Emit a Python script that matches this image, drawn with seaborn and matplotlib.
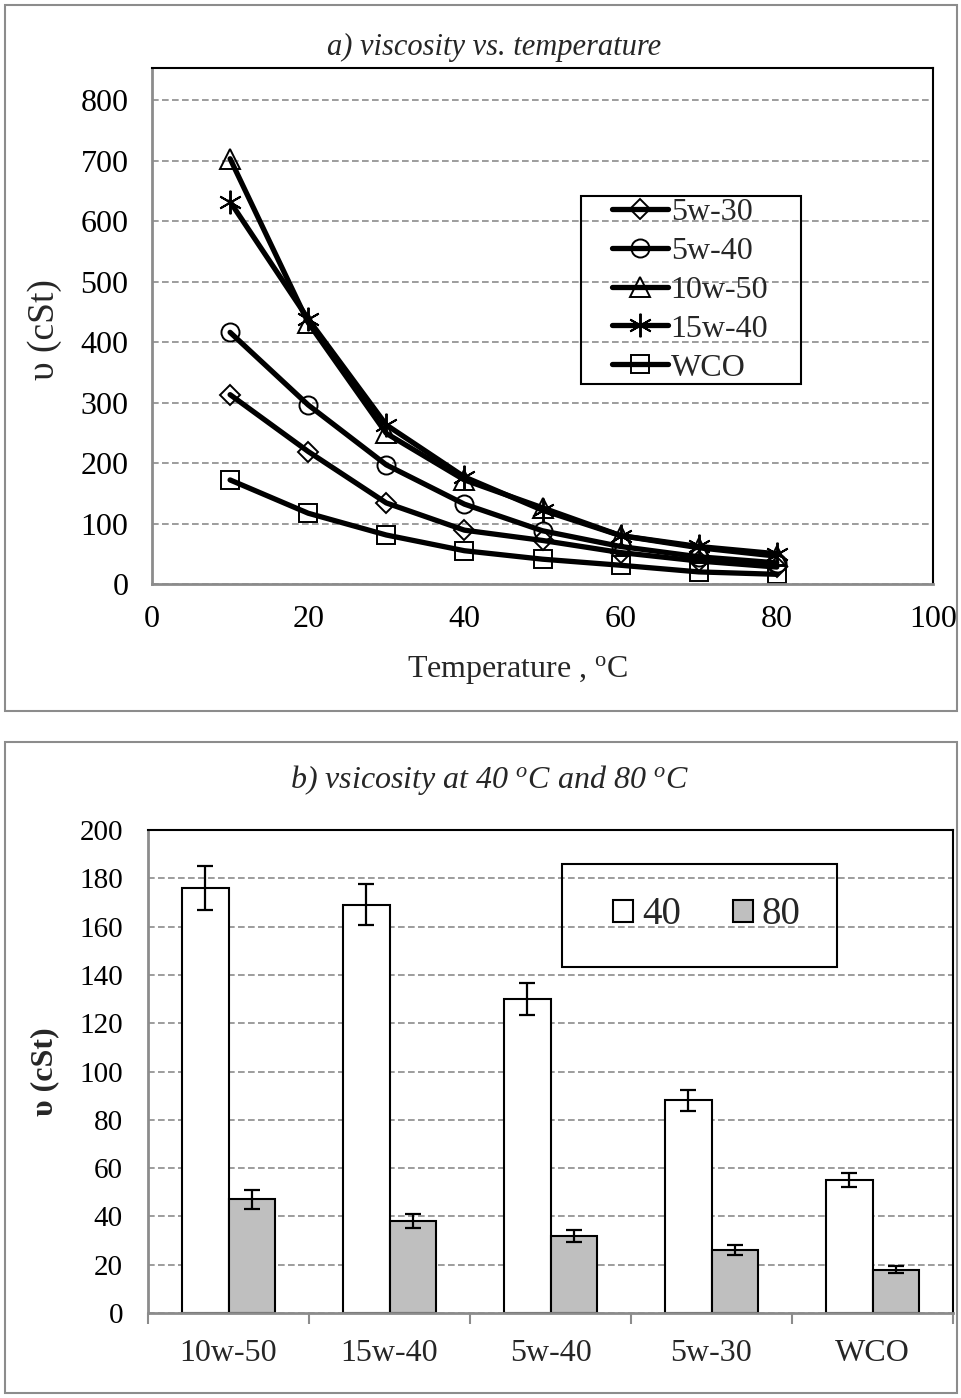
import numpy as np
import pandas as pd
import matplotlib
matplotlib.use("Agg")
import matplotlib.pyplot as plt
import seaborn as sns
from matplotlib.patches import Rectangle, Patch
from matplotlib.lines import Line2D

# ---------------- data ----------------
temps = [10, 20, 30, 40, 50, 60, 70, 80]
oil_names = ["5w-30", "5w-40", "10w-50", "15w-40", "WCO"]
v_5w30 = [313, 219, 134, 89, 72, 52, 38, 28]
v_5w40 = [416, 296, 197, 132, 88, 62, 45, 35]
v_10w50 = [703, 432, 249, 172, 126, 80, 60, 46]
v_15w40 = [632, 438, 263, 177, 122, 80, 62, 50]
v_wco = [172, 117, 81, 55, 41, 31, 20, 16]

bar_cats = ["10w-50", "15w-40", "5w-40", "5w-30", "WCO"]
visc_40 = [176, 169, 130, 88, 55]
visc_80 = [47, 38, 32, 26, 18]
err_40 = [9, 8.5, 6.5, 4.5, 3]
err_80 = [4, 3, 2.5, 2, 1.5]

# ---------------- style ----------------
sns.set_theme(style="white")
plt.rcParams["font.family"] = ["Liberation Serif", "DejaVu Serif"]
plt.rcParams["mathtext.fontset"] = "custom"
plt.rcParams["mathtext.rm"] = "Liberation Serif"
plt.rcParams["mathtext.it"] = "Liberation Serif:italic"
plt.rcParams["mathtext.bf"] = "Liberation Serif:bold"

W, H = 961, 1398
fig = plt.figure(figsize=(W / 100, H / 100), dpi=100)

def fx(px):
    return px / W

def fy(py):
    return 1 - py / H

def fig_box(x0, y0, x1, y1, color, lw):
    fig.patches.append(Rectangle((fx(x0), fy(y1)), fx(x1) - fx(x0), fy(y0) - fy(y1),
                                 transform=fig.transFigure, fill=False,
                                 edgecolor=color, lw=lw, zorder=10))

# panel borders
fig_box(5, 5, 957, 711, "#8c8c8c", 1.5)
fig_box(5, 742, 957, 1393, "#8c8c8c", 1.5)

axis_gray = "#8c8c8c"
grid_gray = "#8c8c8c"

# ---------------- top chart ----------------
ax1 = fig.add_axes([fx(152), fy(584), fx(933) - fx(152), fy(68) - fy(584)])
series = {"5w-30": v_5w30, "5w-40": v_5w40, "10w-50": v_10w50, "15w-40": v_15w40, "WCO": v_wco}
markers = {"5w-30": "D", "5w-40": "o", "10w-50": "^", "15w-40": (6, 2, 0), "WCO": "s"}
msizes = {"5w-30": 10, "5w-40": 13, "10w-50": 14, "15w-40": 17, "WCO": 13}
draw_order = ["WCO", "5w-30", "5w-40", "10w-50", "15w-40"]
for name in draw_order:
    sns.lineplot(x=temps, y=series[name], ax=ax1, color="black", lw=3.8,
                 marker=markers[name], markersize=msizes[name], markeredgewidth=1.4,
                 markerfacecolor="none", markeredgecolor="black", label=name,
                 legend=False)

ax1.set_xlim(0, 100)
ax1.set_ylim(0, 853)
ax1.set_xticks(np.arange(0, 101, 20))
ax1.set_yticks(np.arange(0, 801, 100))
ax1.yaxis.grid(True, linestyle=(0, (4, 2)), color=grid_gray, lw=1.2)
ax1.xaxis.grid(False)
ax1.set_axisbelow(True)
for s in ["left", "bottom"]:
    ax1.spines[s].set_color(axis_gray)
    ax1.spines[s].set_linewidth(2)
for s in ["top", "right"]:
    ax1.spines[s].set_color("black")
    ax1.spines[s].set_linewidth(1.5)
ax1.tick_params(axis="both", which="major", direction="out", length=7, width=1.5,
                color=axis_gray, labelsize=23, labelcolor="black", pad=10)
ax1.tick_params(axis="x", pad=8)
ax1.set_xlabel("")
ax1.set_ylabel("")
fig.text(fx(518), fy(670), r"Temperature , $^{\mathrm{o}}$C", ha="center", va="center", fontsize=23)
fig.text(fx(45), fy(330), "υ (cSt)", ha="center", va="center", rotation=90, fontsize=27)
fig.text(fx(494), fy(47), "a) viscosity vs. temperature", ha="center", va="center",
         fontsize=22, style="italic")

handles = [Line2D([], [], color="black", lw=3.8, marker=markers[n], markersize=msizes[n],
                  markerfacecolor="none", markeredgecolor="black", markeredgewidth=1.4)
           for n in oil_names]
leg1 = fig.legend(handles, oil_names, loc="center",
                  bbox_to_anchor=(fx(690), fy(290)),
                  fontsize=23, frameon=False,
                  handlelength=1.75, handletextpad=0.1, labelspacing=0.3,
                  borderpad=0, borderaxespad=0)
fig_box(581, 196, 801, 384, "black", 1.5)

# ---------------- bottom chart ----------------
ax2 = fig.add_axes([fx(148), fy(1313), fx(953) - fx(148), fy(830) - fy(1313)])
df = pd.DataFrame({
    "oil": bar_cats * 2,
    "temp": ["40"] * len(bar_cats) + ["80"] * len(bar_cats),
    "visc": visc_40 + visc_80,
})
sns.barplot(data=df, x="oil", y="visc", hue="temp", order=bar_cats, hue_order=["40", "80"],
            palette={"40": "white", "80": "#bfbfbf"}, edgecolor="black", linewidth=1.5,
            width=0.575, gap=0, errorbar=None, ax=ax2, legend=False, zorder=2)

for cont, errs in zip(ax2.containers, [err_40, err_80]):
    xs = [b.get_x() + b.get_width() / 2 for b in cont]
    ys = [b.get_height() for b in cont]
    ax2.errorbar(xs, ys, yerr=errs, fmt="none", ecolor="black", elinewidth=1.6,
                 capsize=5.5, capthick=1.6, zorder=3)

ax2.set_xlim(-0.5, len(bar_cats) - 0.5)
ax2.set_ylim(0, 200)
ax2.set_yticks(np.arange(0, 201, 20))
ax2.set_xticks(np.arange(len(bar_cats)))
ax2.set_xticklabels(bar_cats)
ax2.set_xticks(np.arange(-0.5, len(bar_cats), 1.0), minor=True)
ax2.yaxis.grid(True, linestyle=(0, (4, 2)), color=grid_gray, lw=1.2)
ax2.xaxis.grid(False)
ax2.set_axisbelow(True)
for s in ["left", "bottom"]:
    ax2.spines[s].set_color(axis_gray)
    ax2.spines[s].set_linewidth(2)
for s in ["top", "right"]:
    ax2.spines[s].set_color("black")
    ax2.spines[s].set_linewidth(1.5)
ax2.tick_params(axis="y", which="major", direction="out", length=7, width=1.5,
                color=axis_gray, labelsize=21, labelcolor="black", pad=11)
ax2.tick_params(axis="x", which="major", length=0, labelsize=23, pad=19)
ax2.tick_params(axis="x", which="minor", direction="out", length=8, width=1.5,
                color=axis_gray, bottom=True)
ax2.set_xlabel("")
ax2.set_ylabel("")
fig.text(fx(45), fy(1072), "υ (cSt)", ha="center", va="center", rotation=90,
         fontsize=23, fontweight="bold")
fig.text(fx(490), fy(780), r"b) vsicosity at 40 $^{o}$C and 80 $^{o}$C", ha="center",
         va="center", fontsize=23, style="italic")

bh = [Patch(facecolor="white", edgecolor="black", lw=1.5),
      Patch(facecolor="#bfbfbf", edgecolor="black", lw=1.5)]
leg2 = fig.legend(bh, ["40", "80"], ncol=2, loc="center",
                  bbox_to_anchor=(fx(707), fy(915)),
                  fontsize=28, frameon=False,
                  handlelength=0.5, handleheight=0.5, handletextpad=0.23,
                  columnspacing=1.35, borderpad=0, borderaxespad=0)
fig_box(562, 864, 837, 967, "black", 1.5)

fig.savefig("out.png", dpi=100)
